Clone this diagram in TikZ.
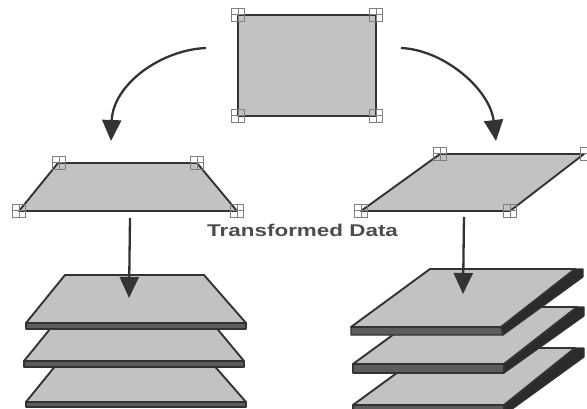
\documentclass[tikz,border=0pt]{standalone}
\usepackage{graphicx}
\usepackage{fontspec}
\setmainfont{Liberation Sans}
\usetikzlibrary{arrows.meta}
\definecolor{ink}{gray}{0.2}
\definecolor{plate}{gray}{0.76}
\definecolor{rim}{gray}{0.36}
\tikzset{
  sheet/.style={draw=ink,fill=plate,line width=1.9pt,line join=round},
  frontrim/.style={draw=ink,fill=rim,line width=1.4pt,line join=round},
  siderim/.style={draw=ink,fill=ink!85!black,line width=1.2pt,line join=round},
  handle/.style={draw=black!50,line width=1pt,fill=none,minimum size=13pt,inner sep=0pt,outer sep=0pt,
    path picture={\draw[black!50,line width=1pt] (path picture bounding box.north) -- (path picture bounding box.south)
      (path picture bounding box.west) -- (path picture bounding box.east);}},
  flow/.style={draw=ink,line width=2.3pt,-{Triangle[length=21pt,width=19pt,fill=ink]}},
  caption/.style={font=\bfseries\fontsize{17}{19}\selectfont,text=black!70,inner sep=0pt}
}
\begin{document}
\begin{tikzpicture}[x=1pt,y=-1pt]
\useasboundingbox (0,0) rectangle (587,409);
% source sheet
\draw[sheet,line width=2.5pt] (238,15) -- (376,15) -- (376,116) -- (238,116) -- cycle;
\foreach \n/\p in {sa/{238,15},sb/{376,15},sc/{376,116},sd/{238,116}} \node[handle] (\n) at (\p) {};
% left transformed sheet
\draw[sheet] (58,163) -- (197,163) -- (237,211) -- (19,211) -- cycle;
\foreach \n/\p in {la/{59,163},lb/{197,163},lc/{237,211},ld/{19,211}} \node[handle] (\n) at (\p) {};
% right transformed sheet
\draw[sheet] (440,154) -- (584,154) -- (510,211) -- (361,211) -- cycle;
\foreach \n/\p in {ra/{440,154},rb/{587,154},rc/{510,211},rd/{361,211}} \node[handle] (\n) at (\p) {};
% left stack, back to front
\draw[frontrim] (26,402) -- (246,402) -- (246,407) -- (26,407) -- cycle;
\draw[sheet] (65,354) -- (204,354) -- (246,402) -- (26,402) -- cycle;
\draw[frontrim] (24,361) -- (244,361) -- (244,367) -- (24,367) -- cycle;
\draw[sheet] (63,313) -- (204,313) -- (244,361) -- (24,361) -- cycle;
\draw[frontrim] (26,323) -- (246,323) -- (246,329) -- (26,329) -- cycle;
\draw[sheet] (65,275) -- (204,275) -- (246,323) -- (26,323) -- cycle;
% right stack, back to front
\draw[siderim] (504,405) -- (575,348) -- (584,348) -- (584,357) -- (504,415) -- cycle;
\draw[frontrim] (353,405) -- (504,405) -- (504,415) -- (353,415) -- cycle;
\draw[sheet] (431,348) -- (575,348) -- (504,405) -- (353,405) -- cycle;
\draw[siderim] (504,364) -- (577,307) -- (584,307) -- (584,316) -- (504,373) -- cycle;
\draw[frontrim] (353,364) -- (504,364) -- (504,373) -- (353,373) -- cycle;
\draw[sheet] (431,307) -- (577,307) -- (504,364) -- (353,364) -- cycle;
\draw[siderim] (501,327) -- (575,269) -- (583,269) -- (583,277) -- (503,335) -- cycle;
\draw[frontrim] (351,327) -- (501,327) -- (503,335) -- (351,335) -- cycle;
\draw[sheet] (430,269) -- (575,269) -- (501,327) -- (351,327) -- cycle;
% caption
\node[caption,anchor=west] (cap) at (207,230) {\scalebox{1.32}[1]{Transformed Data}};
% arrows
\coordinate (a1) at (206,48); \coordinate (a2) at (111,141);
\coordinate (b1) at (401,48); \coordinate (b2) at (496,141);
\coordinate (c1) at (130,218); \coordinate (c2) at (129,298);
\coordinate (d1) at (464,217); \coordinate (d2) at (463,294);
\draw[flow] (a1) .. controls (160,50) and (113,85) .. (a2);
\draw[flow] (b1) .. controls (445,50) and (490,90) .. (b2);
\draw[flow] (c1) -- (c2);
\draw[flow] (d1) -- (d2);
\end{tikzpicture}
\end{document}
